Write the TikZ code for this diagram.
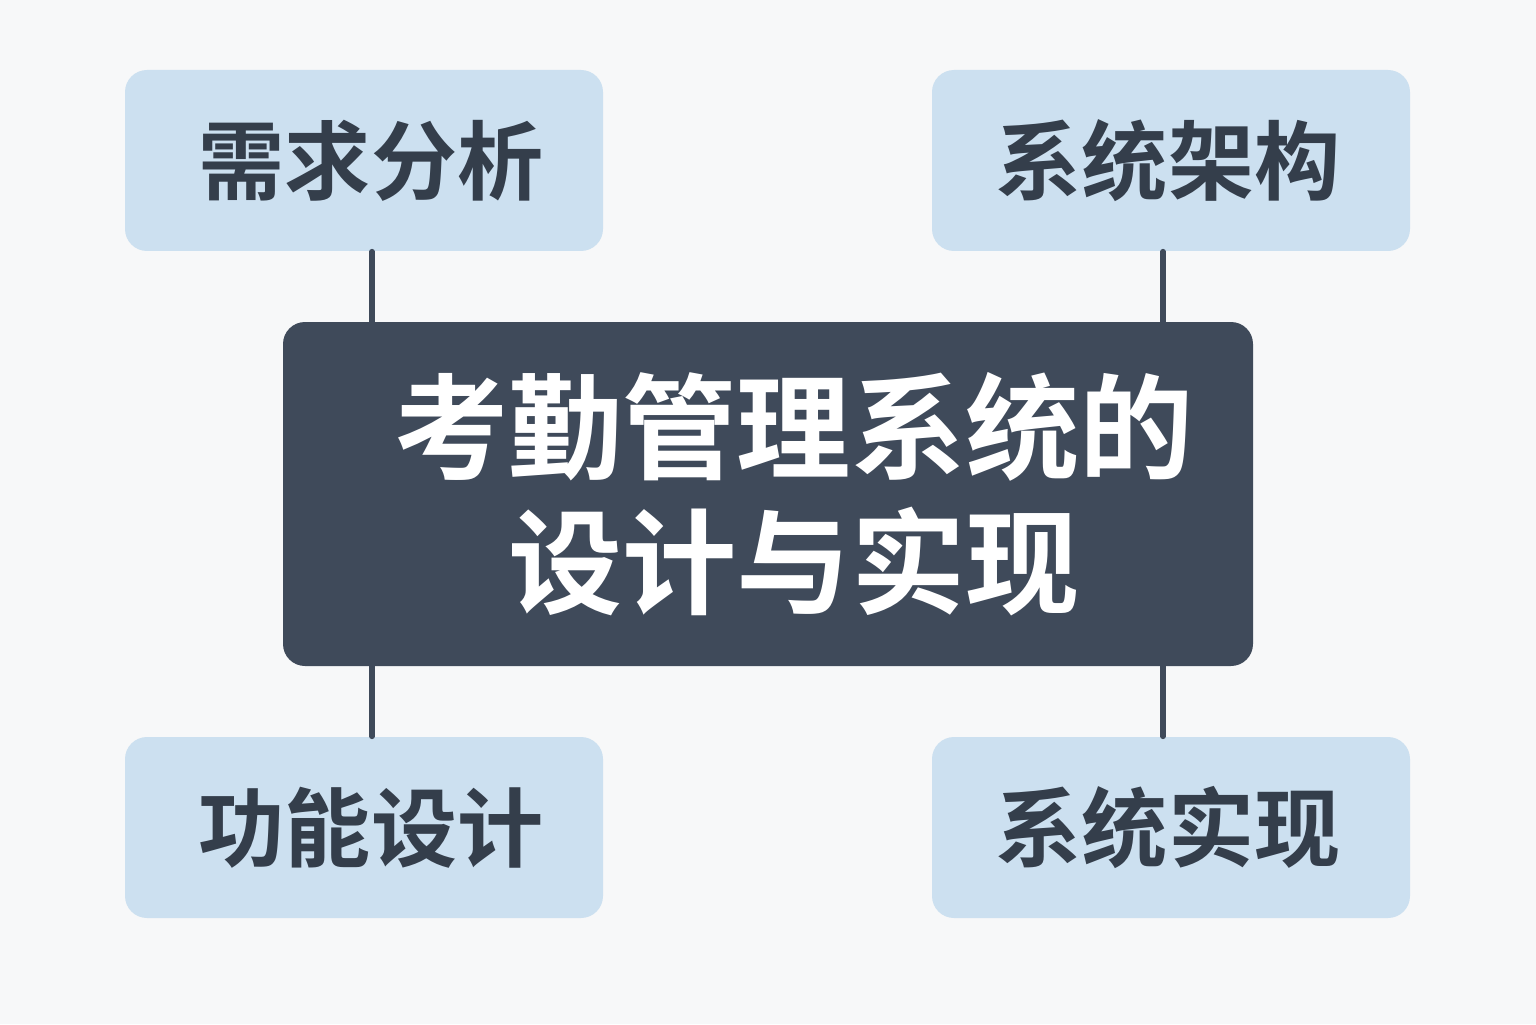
\documentclass[tikz,border=0pt]{standalone}
\usepackage{fontspec}
\newfontfamily\cjk{Noto Sans CJK SC}[BoldFont={Noto Sans CJK SC Bold}]
\usetikzlibrary{positioning}
\definecolor{pagebg}{HTML}{F7F8F9}
\definecolor{boxblue}{HTML}{CCE0F0}
\definecolor{boxdark}{HTML}{3F4A5A}
\definecolor{inkdark}{HTML}{343E4B}
\begin{document}
\begin{tikzpicture}[line cap=round,line join=round,
  topic/.style={fill=boxblue,rounded corners=0.22cm,minimum width=4.78cm,minimum height=1.81cm,
    text=inkdark,font=\cjk\bfseries\fontsize{24.5}{28}\selectfont},
  title/.style={fill=boxdark,rounded corners=0.22cm,minimum width=9.7cm,minimum height=3.44cm,
    text=white,align=center,font=\cjk\bfseries\fontsize{32.5}{38.5}\selectfont},
  link/.style={draw=boxdark,line width=1.6pt}]
  \def\dx{0.08}

  % Background
  \fill[pagebg] (0,0) rectangle (15.36,10.24);
  \useasboundingbox (0,0) rectangle (15.36,10.24);

  % Center
  \node[title] (main) at (7.68,5.30) {\hspace*{0.52cm}考勤管理系统的\\\hspace*{0.52cm}设计与实现};

  % Topics
  \node[topic] (req)  at (3.64,8.635) {\hspace*{0.14cm}需求分析};
  \node[topic] (arch) at (11.71,8.635) {系统架构\hspace*{0.06cm}};
  \node[topic] (func) at (3.64,1.965) {\hspace*{0.14cm}功能设计};
  \node[topic] (impl) at (11.71,1.965) {系统实现\hspace*{0.06cm}};

  % Links
  \draw[link] ([xshift=\dx cm]req.south) -- ([xshift=\dx cm]req.south |- main.north);
  \draw[link] ([xshift=-\dx cm]arch.south) -- ([xshift=-\dx cm]arch.south |- main.north);
  \draw[link] ([xshift=\dx cm]func.north) -- ([xshift=\dx cm]func.north |- main.south);
  \draw[link] ([xshift=-\dx cm]impl.north) -- ([xshift=-\dx cm]impl.north |- main.south);
\end{tikzpicture}
\end{document}
